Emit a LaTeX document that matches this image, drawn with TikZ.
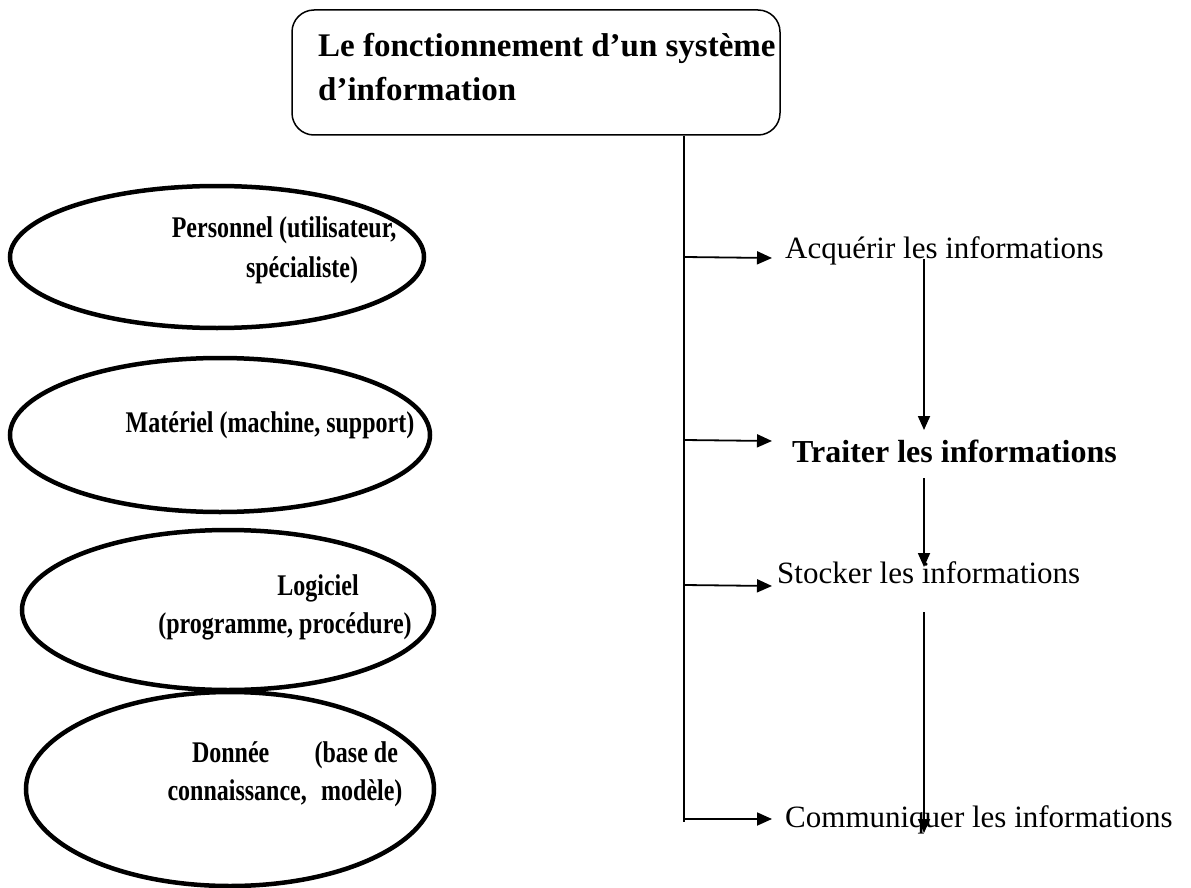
\documentclass[tikz,border=0pt]{standalone}
\usepackage{fontspec}
\setmainfont{Liberation Serif}
\newfontfamily\condserif[FakeStretch=0.8]{Liberation Serif}
\usetikzlibrary{arrows.meta,shapes.geometric}
\tikzset{
  oval/.style={draw, ellipse, line width=4.5pt, inner sep=0pt},
  lbl/.style={anchor=base, inner sep=0pt, font=\condserif\fontsize{30}{38}\selectfont\bfseries},
  rtext/.style={anchor=base west, inner sep=0pt, font=\fontsize{31}{36}\selectfont},
  harrow/.style={line width=1.8pt, -{Triangle[length=15pt,width=13pt]}},
  varrow/.style={line width=1.8pt, -{Triangle[length=14pt,width=12pt]}},
  trunk/.style={line width=1.5pt}
}
\begin{document}
\begin{tikzpicture}[x=1pt,y=-1pt]
\useasboundingbox (0,0) rectangle (1191,888);
% title
\node[draw, line width=1.5pt, rounded corners=22pt, minimum width=488pt, minimum height=125pt, inner sep=0pt] (title) at (536,72.5) {};
\node[anchor=base west, inner sep=0pt, align=left, font=\fontsize{33}{44}\selectfont\bfseries] (titletxt) at (318,101) {Le fonctionnement d’un système\\d’information};
% ellipses
\node[oval, minimum width=414pt, minimum height=142pt] (e1) at (217,257) {};
\node[oval, minimum width=420pt, minimum height=154pt] (e2) at (220,435) {};
\node[oval, minimum width=412pt, minimum height=160pt] (e3) at (228,610) {};
\node[oval, minimum width=408pt, minimum height=194pt] (e4) at (230,789) {};
\node[lbl] (p1) at (284,237) {Personnel (utilisateur,};
\node[lbl] (p2) at (302,277) {spécialiste)};
\node[lbl] (m1) at (270,432) {Matériel (machine, support)};
\node[lbl] (l1) at (318,595) {Logiciel};
\node[lbl] (l2) at (285,633) {(programme, procédure)};
\node[lbl] (d1) at (295,762) {\makebox[206pt][s]{Donnée\hfill(base de}};
\node[lbl] (d2) at (285,800) {\makebox[235pt][s]{connaissance,\hfill modèle)}};
% right texts
\node[rtext] (acq) at (785,258) {Acquérir les informations};
\node[rtext, font=\fontsize{32}{36}\selectfont\bfseries] (trt) at (792,462) {Traiter les informations};
\node[rtext] (sto) at (777,583) {Stocker les informations};
\node[rtext] (com) at (785,827) {Communiquer les informations};
% trunk
\coordinate (tend) at (684,822);
\draw[trunk] (title.south -| tend) -- (tend);
\coordinate (b1) at (684,257);
\coordinate (b2) at (684,440);
\coordinate (b3) at (684,585);
\coordinate (b4) at (684,819);
\coordinate (h1) at (772,258);
\coordinate (h2) at (772,441);
\coordinate (h3) at (772,586);
\coordinate (h4) at (772,819);
\draw[harrow] (b1) -- (h1);
\draw[harrow] (b2) -- (h2);
\draw[harrow] (b3) -- (h3);
\draw[harrow] (b4) -- (h4);
% inner vertical arrows
\coordinate (v1s) at (924,259);
\coordinate (v1e) at (924,430);
\coordinate (v2s) at (924,478);
\coordinate (v2e) at (924,567);
\coordinate (v3s) at (924,612);
\coordinate (v3e) at (924,833);
\draw[varrow] (v1s) -- (v1e);
\draw[varrow] (v2s) -- (v2e);
\draw[varrow] (v3s) -- (v3e);
\end{tikzpicture}
\end{document}
